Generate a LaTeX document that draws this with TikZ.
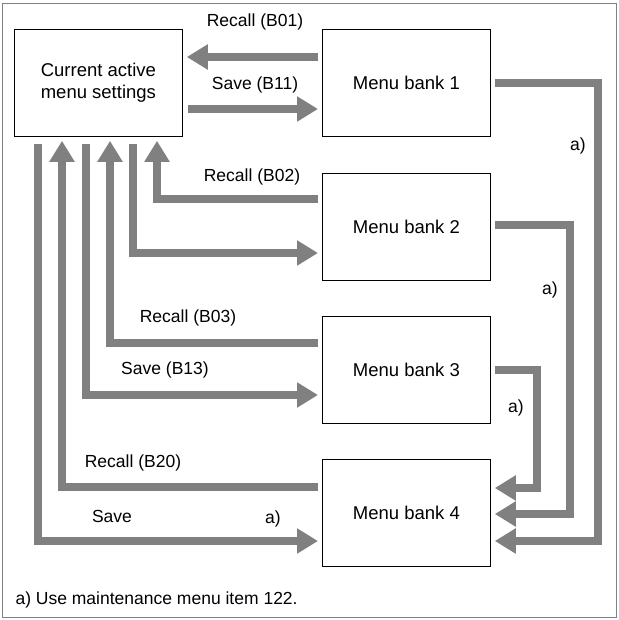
\documentclass[tikz,border=0pt]{standalone}
\usepackage{fontspec}
\setmainfont{Liberation Sans}
\usetikzlibrary{arrows.meta}
\definecolor{arrgray}{RGB}{128,128,128}

\begin{document}
\begin{tikzpicture}[x=1pt,y=-1pt,
    box/.style={draw=black, thick, minimum width=168pt, minimum height=107pt, anchor=north west, font=\fontsize{18.5}{22}\selectfont, align=center},
    flow/.style={draw=arrgray, line width=8pt, shorten >=4pt, -{Triangle[length=21pt,width=24pt]}},
    lbl/.style={font=\fontsize{17.5}{20}\selectfont}]
    \useasboundingbox (0,0) rectangle (618,620);
    \draw[gray, thick] (2,3) rectangle (616,617);

    %% boxes
    \node[box] (cur) at (14,29) {Current active\\menu settings};
    \node[box] (b1) at (322,29) {Menu bank 1};
    \node[box] (b2) at (322,173) {Menu bank 2};
    \node[box] (b3) at (322,316) {Menu bank 3};
    \node[box] (b4) at (322,459) {Menu bank 4};

    %% bank 1
    \draw[flow] (b1.west |- 0,57) ++(-4,0) -- (cur.east |- 0,57);
    \draw[flow] (cur.east |- 0,109) ++(5,0) -- (b1.west |- 0,109);
    \node[lbl] at (255,22) {Recall (B01)};
    \node[lbl] at (255,85) {Save (B11)};

    %% bank 2
    \draw[flow] (b2.west |- 0,199) ++(-4,0) -| (cur.south -| 157,0);
    \draw[flow] (cur.south -| 133,0) ++(0,7) |- (b2.west |- 0,253);
    \node[lbl] at (252,177) {Recall (B02)};

    %% bank 3
    \draw[flow] (b3.west |- 0,343) ++(-4,0) -| (cur.south -| 110,0);
    \draw[flow] (cur.south -| 86,0) ++(0,7) |- (b3.west |- 0,395);
    \node[lbl] at (188,318) {Recall (B03)};
    \node[lbl] at (165,370) {Save (B13)};

    %% bank 4
    \draw[flow] (b4.west |- 0,487) ++(-4,0) -| (cur.south -| 62,0);
    \draw[flow] (cur.south -| 38,0) ++(0,7) |- (b4.west |- 0,541);
    \node[lbl] at (133,463) {Recall (B20)};
    \node[lbl] at (112,516) {Save};
    \node[lbl] at (273,519) {a)};

    %% copies to bank 4
    \draw[flow] (b1.east |- 0,83) ++(4,0) -- (598,83) |- (b4.east |- 0,541);
    \draw[flow] (b2.east |- 0,225) ++(4,0) -- (570,225) |- (b4.east |- 0,514);
    \draw[flow] (b3.east |- 0,370) ++(4,0) -- (537,370) |- (b4.east |- 0,488);
    \node[lbl] at (578,146) {a)};
    \node[lbl] at (550,290) {a)};
    \node[lbl] at (516,408) {a)};

    %% note
    \node[lbl, anchor=west] (note) at (12,600) {a) Use maintenance menu item 122.};
\end{tikzpicture}
\end{document}
